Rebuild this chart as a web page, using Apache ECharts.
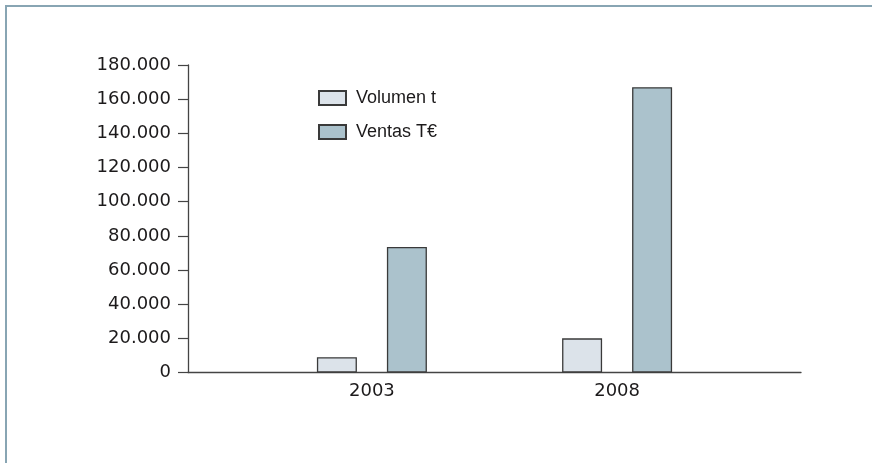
<!DOCTYPE html>
<html>
<head>
<meta charset="utf-8">
<script src="https://cdn.jsdelivr.net/npm/echarts@6/dist/echarts.min.js"></script>
<style>
html,body{margin:0;padding:0;background:#fff;}
#chart{width:872px;height:463px;}
</style>
</head>
<body>
<div id="chart"></div>
<script>
const years = ['2003', '2008'];
const volumen = [9000, 20000];
const ventas = [73500, 167000];
const seriesNames = ['Volumen t', 'Ventas T€'];
const yTicks = [0, 20000, 40000, 60000, 80000, 100000, 120000, 140000, 160000, 180000];

// padded category axis: empty bands around and between the years
const axisCats = ['', years[0], '', years[1], ''];
const pad = arr => [null, arr[0], null, arr[1], null];

const chart = echarts.init(document.getElementById('chart'), null, {renderer: 'canvas'});
const txt = '#1c1a1b';
const fmt = v => String(v).replace(/\B(?=(\d{3})+(?!\d))/g, '.');

chart.setOption({
  animation: false,
  backgroundColor: '#fff',
  graphic: [
    {type: 'line', shape: {x1: 5, y1: 6, x2: 872, y2: 6}, style: {stroke: '#88a5b3', lineWidth: 2}},
    {type: 'line', shape: {x1: 6, y1: 5, x2: 6, y2: 463}, style: {stroke: '#88a5b3', lineWidth: 2}}
  ],
  legend: {
    orient: 'vertical',
    left: 313,
    top: 84,
    icon: 'rect',
    itemWidth: 27,
    itemHeight: 14,
    itemGap: 16,
    data: seriesNames,
    textStyle: {fontFamily: 'Liberation Sans', fontSize: 18, color: txt, lineHeight: 14, padding: [0, 0, 0, 5]}
  },
  grid: {left: 188, width: 613, top: 65, bottom: 90.5, containLabel: false},
  xAxis: {
    type: 'category',
    data: axisCats,
    axisLine: {lineStyle: {color: '#444', width: 1.3}},
    axisTick: {show: false},
    axisLabel: {fontFamily: 'DejaVu Sans', fontSize: 18, color: txt, margin: 10, interval: 0}
  },
  yAxis: {
    type: 'value',
    min: yTicks[0],
    max: yTicks[yTicks.length - 1],
    interval: yTicks[1] - yTicks[0],
    splitLine: {show: false},
    axisLine: {show: true, lineStyle: {color: '#444', width: 1.3}},
    axisTick: {show: true, length: 10, lineStyle: {color: '#444', width: 1.2}},
    axisLabel: {fontFamily: 'DejaVu Sans', fontSize: 18, color: txt, margin: 17, formatter: fmt}
  },
  series: [
    {
      name: seriesNames[0], type: 'bar', data: pad(volumen),
      barWidth: 40, barGap: '75%',
      itemStyle: {color: '#dce3ea', borderColor: '#3a3a3a', borderWidth: 1.3}
    },
    {
      name: seriesNames[1], type: 'bar', data: pad(ventas),
      barWidth: 40, barGap: '75%',
      itemStyle: {color: '#abc2cc', borderColor: '#3a3a3a', borderWidth: 1.3}
    }
  ]
});
</script>
</body>
</html>
